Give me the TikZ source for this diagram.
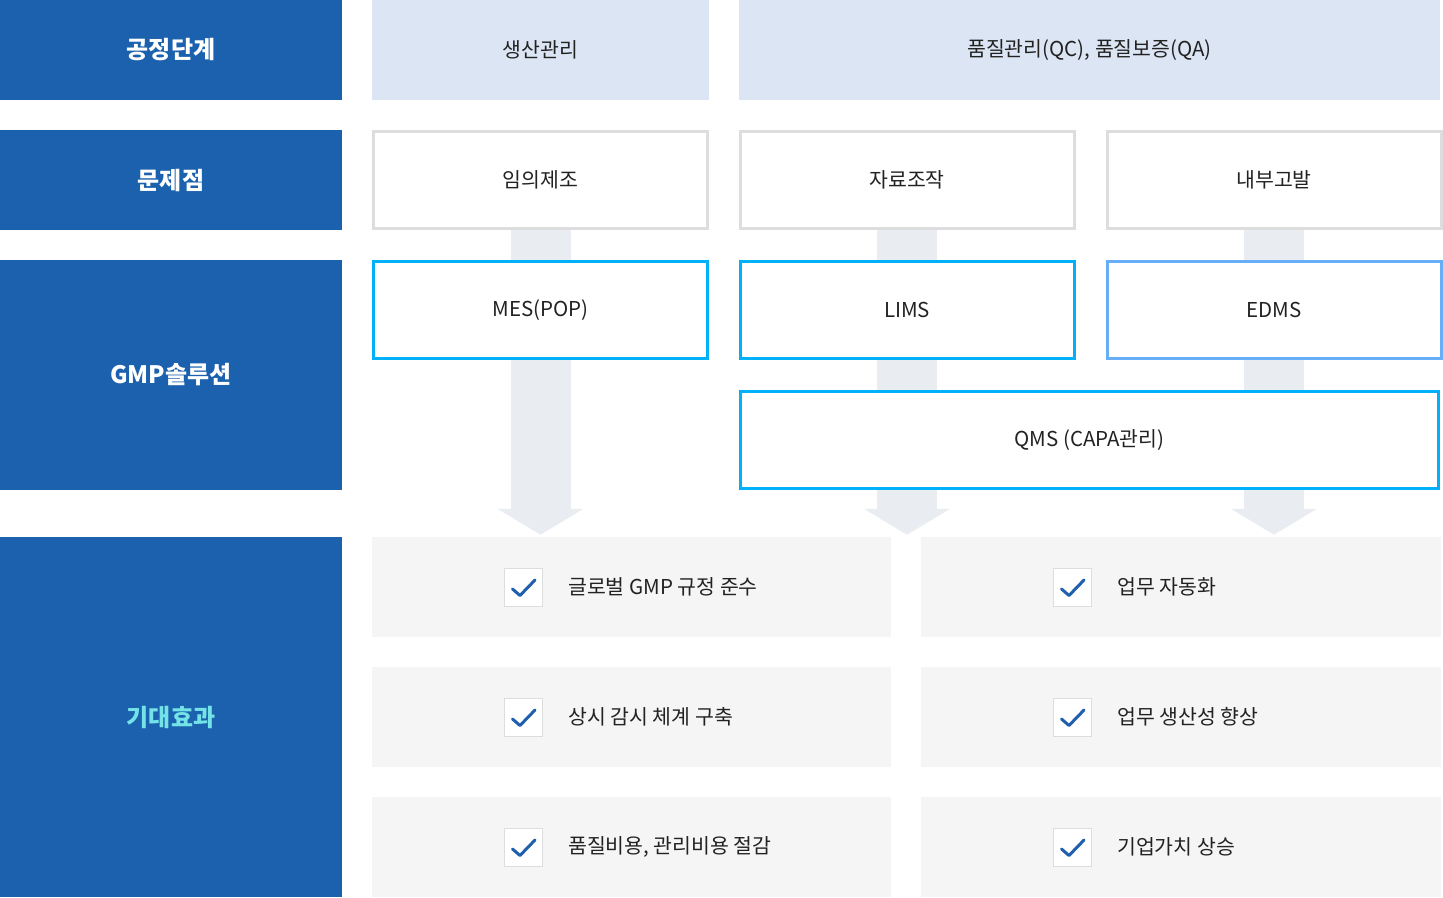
\documentclass[tikz,border=0pt]{standalone}
\usepackage{fontspec}
\setmainfont{Noto Sans CJK KR}
\usetikzlibrary{positioning,arrows.meta,backgrounds}

\definecolor{hdblue}{HTML}{1B61AD}
\definecolor{hdcyan}{HTML}{74E3E8}
\definecolor{stagebg}{HTML}{DCE5F3}
\definecolor{probline}{HTML}{DDDDDD}
\definecolor{solline}{HTML}{00B0F8}
\definecolor{soledms}{HTML}{66AEF8}
\definecolor{arrbg}{HTML}{E9EDF2}
\definecolor{effbg}{HTML}{F5F5F5}
\definecolor{chkblue}{HTML}{1F5FAE}
\definecolor{txt}{HTML}{222222}

\begin{document}
\begin{tikzpicture}[x=1pt, y=-1pt, >=latex]
  \tikzstyle{hd} = [fill=hdblue, text=white, font=\fontsize{24}{28}\selectfont\bfseries, minimum width=342pt, inner sep=0pt]
  \tikzstyle{cell} = [text=txt, font=\fontsize{20.5}{24}\selectfont, inner sep=0pt]
  \tikzstyle{stage} = [cell, fill=stagebg, minimum height=100pt]
  \tikzstyle{prob} = [cell, draw=probline, line width=3pt, fill=white, minimum width=334pt, minimum height=97pt]
  \tikzstyle{sol} = [prob, draw=solline]
  \tikzstyle{eff} = [fill=effbg, minimum height=100pt, inner sep=0pt]
  \tikzstyle{chkbox} = [draw=probline, line width=1pt, fill=white, minimum size=38pt, inner sep=0pt]
  \tikzstyle{bigarr} = [arrbg, line width=60pt, -{Triangle[width=85pt, length=26pt]}, shorten >=2pt]

  \useasboundingbox (0,0) rectangle (1443,897);

  % left column
  \node [hd, minimum height=100pt] (hdStage) at (171,50) {공정단계};
  \node [hd, minimum height=100pt] (hdProb) at (171,180) {문제점};
  \node [hd, minimum height=230pt] (hdSol) at (171,375) {GMP솔루션};
  \node [hd, minimum height=360pt, text=hdcyan] (hdEff) at (171,717) {기대효과};

  % process stages
  \node [stage, minimum width=337pt] (stProd) at (540.5,50) {생산관리};
  \node [stage, minimum width=701pt] (stQual) at (1089.5,50) {품질관리(QC), 품질보증(QA)};

  % problems
  \node [prob] (prob1) at (540.5,180) {임의제조};
  \node [prob] (prob2) at (907,180) {자료조작};
  \node [prob] (prob3) at (1274,180) {내부고발};

  % solutions
  \node [sol] (mes) at (540.5,310) {MES(POP)};
  \node [sol] (lims) at (907,310) {LIMS};
  \node [sol, draw=soledms] (edms) at (1274,310) {EDMS};
  \node [sol, minimum width=698pt] (qms) at (1089.5,440) {QMS (CAPA관리)};

  % effects
  \foreach \y/\l/\r [count=\i] in {587/글로벌 GMP 규정 준수/업무 자동화,
                                   717/상시 감시 체계 구축/업무 생산성 향상,
                                   847/{품질비용, 관리비용 절감}/기업가치 상승} {
    \node [eff, minimum width=519pt] (effL\i) at (631.5,\y) {};
    \node [eff, minimum width=520pt] (effR\i) at (1181,\y) {};
    \node [chkbox] (chkL\i) at (523.5,\y) {};
    \node [chkbox] (chkR\i) at (1072.5,\y) {};
    \node [cell, anchor=west, right=25pt of chkL\i] (txtL\i) {\l};
    \node [cell, anchor=west, right=25pt of chkR\i] (txtR\i) {\r};
    \foreach \c in {chkL\i,chkR\i} {
      \draw [chkblue, line width=3pt, line cap=round, line join=round]
        ([shift={(-11,2)}]\c.center) -- ([shift={(-3.5,8.5)}]\c.center) -- ([shift={(11.5,-7)}]\c.center);
    }
  }

  % flow arrows
  \begin{scope}[on background layer]
    \foreach \p in {prob1,prob2,prob3} {
      \draw [bigarr] (\p.south) -- (\p.south |- effL1.north);
    }
  \end{scope}
\end{tikzpicture}
\end{document}
